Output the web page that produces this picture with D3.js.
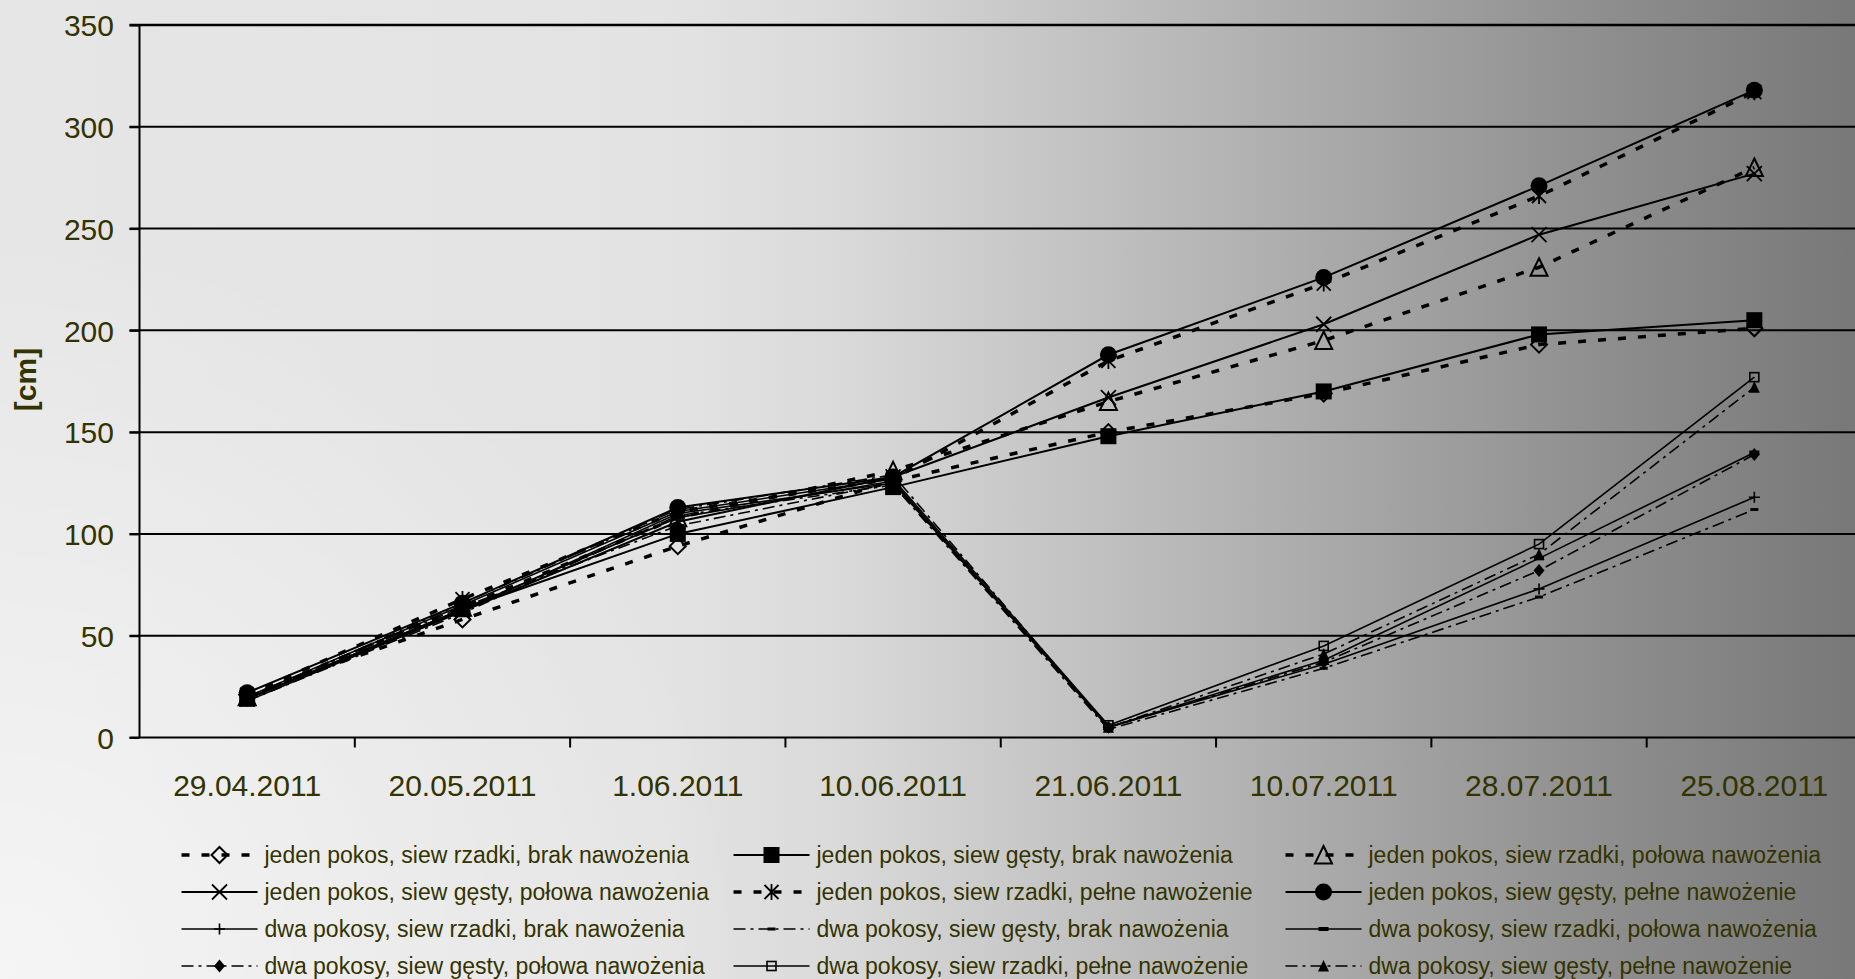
<!DOCTYPE html>
<html>
<head>
<meta charset="utf-8">
<script src="https://cdn.jsdelivr.net/npm/d3@7"></script>
<style>
  html, body { margin: 0; padding: 0; overflow: hidden; background: #e6e6e6; }
  svg { display: block; font-family: "Liberation Sans", Arial, sans-serif; }
</style>
</head>
<body>
<svg id="chart" width="1855" height="979"></svg>
<script>
// Measurement dates (x categories)
const dates = ["29.04.2011", "20.05.2011", "1.06.2011", "10.06.2011",
               "21.06.2011", "10.07.2011", "28.07.2011", "25.08.2011"];
const yTicks = [0, 50, 100, 150, 200, 250, 300, 350];

// Plant height [cm] per treatment
const jedenRzadkiBrak    = [21, 58, 94, 126, 150, 169, 193, 201];
const jedenGestyBrak     = [19, 63, 100, 123, 148, 170, 198, 205];
const jedenRzadkiPolowa  = [20, 64, 108, 131, 165, 195, 231, 280];
const jedenGestyPolowa   = [19, 62, 106, 128, 167, 203, 247, 277];
const jedenRzadkiPelne   = [21, 68, 111, 127, 185, 223, 266, 317];
const jedenGestyPelne    = [22, 66, 113, 128, 188, 226, 271, 318];
const dwaRzadkiBrak      = [18, 62, 110, 125, 5, 36, 73, 118];
const dwaGestyBrak       = [18, 61, 109, 124, 4, 34, 69, 112];
const dwaRzadkiPolowa    = [19, 63, 108, 126, 5, 38, 88, 140];
const dwaGestyPolowa     = [20, 64, 104, 125, 5, 37, 82, 139];
const dwaRzadkiPelne     = [20, 65, 111, 127, 6, 45, 95, 177];
const dwaGestyPelne      = [19, 66, 112, 129, 5, 41, 90, 172];

const seriesNames = [
  "jeden pokos, siew rzadki, brak nawożenia",
  "jeden pokos, siew gęsty, brak nawożenia",
  "jeden pokos, siew rzadki, połowa nawożenia",
  "jeden pokos, siew gęsty, połowa nawożenia",
  "jeden pokos, siew rzadki, pełne nawożenie",
  "jeden pokos, siew gęsty, pełne nawożenie",
  "dwa pokosy, siew rzadki, brak nawożenia",
  "dwa pokosy, siew gęsty, brak nawożenia",
  "dwa pokosy, siew rzadki, połowa nawożenia",
  "dwa pokosy, siew gęsty, połowa nawożenia",
  "dwa pokosy, siew rzadki, pełne nawożenie",
  "dwa pokosy, siew gęsty, pełne nawożenie"
];
const seriesValues = [
  jedenRzadkiBrak, jedenGestyBrak, jedenRzadkiPolowa, jedenGestyPolowa,
  jedenRzadkiPelne, jedenGestyPelne, dwaRzadkiBrak, dwaGestyBrak,
  dwaRzadkiPolowa, dwaGestyPolowa, dwaRzadkiPelne, dwaGestyPelne
];

// Line and marker styling per series
const DASH = "8,12", DASHDOT = "12,5,3,5";
const styles = [
  { w: 3.5, dash: DASH,    marker: "diamondOpen" },
  { w: 2,   dash: null,    marker: "squareFilled" },
  { w: 3.5, dash: DASH,    marker: "triangleOpen" },
  { w: 2,   dash: null,    marker: "cross" },
  { w: 3.5, dash: DASH,    marker: "asterisk" },
  { w: 2,   dash: null,    marker: "circleFilled" },
  { w: 1.6, dash: null,    marker: "plus" },
  { w: 1.6, dash: DASHDOT, marker: "dashSmall" },
  { w: 1.6, dash: null,    marker: "dashBig" },
  { w: 1.6, dash: DASHDOT, marker: "diamondSmall" },
  { w: 1.6, dash: null,    marker: "squareSmallOpen" },
  { w: 1.6, dash: DASHDOT, marker: "triangleSmall" }
];

const W = 1855, H = 979;
const plotLeft = 139.5, plotRight = 1862, plotTop = 25, plotBottom = 737.5;
const textColor = "#333300";

const svg = d3.select("#chart");
const defs = svg.append("defs");

// Background: light grey on the left darkening towards the right edge
const bg = defs.append("linearGradient").attr("id", "bgGrad")
  .attr("x1", "0").attr("y1", "0").attr("x2", "1").attr("y2", "0");
[[0, "#e6e6e6"], [0.36, "#e3e3e3"], [0.45, "#dadada"], [0.54, "#cacaca"],
 [0.86, "#8f8f8f"], [1, "#787878"]]
  .forEach(([o, c]) => bg.append("stop").attr("offset", o).attr("stop-color", c));
const glow = defs.append("radialGradient").attr("id", "glow")
  .attr("gradientUnits", "userSpaceOnUse")
  .attr("cx", 0).attr("cy", H).attr("r", 750);
glow.append("stop").attr("offset", 0).attr("stop-color", "#fff").attr("stop-opacity", 0.6);
glow.append("stop").attr("offset", 1).attr("stop-color", "#fff").attr("stop-opacity", 0);

svg.append("rect").attr("width", W).attr("height", H).attr("fill", "url(#bgGrad)");
svg.append("rect").attr("width", W).attr("height", H).attr("fill", "url(#glow)");

// Scales
const x = d3.scaleBand().domain(dates).range([plotLeft, plotRight]).padding(0);
const cx = d => x(d) + x.bandwidth() / 2;
const y = d3.scaleLinear().domain([0, 350]).range([plotBottom, plotTop]);

// Horizontal gridlines
svg.append("g").selectAll("line").data(yTicks).join("line")
  .attr("x1", plotLeft - 10).attr("x2", W)
  .attr("y1", d => y(d)).attr("y2", d => y(d))
  .attr("stroke", "#000").attr("stroke-width", d => d === 350 ? 2.5 : 2);

// Y axis
const yAxis = svg.append("g").attr("transform", `translate(${plotLeft},0)`)
  .call(d3.axisLeft(y).tickValues(yTicks).tickSize(10).tickSizeOuter(0).tickPadding(15.5));
yAxis.select(".domain").attr("stroke", "#000").attr("stroke-width", 2)
  .attr("d", `M0,${plotTop}V${plotBottom}`);
yAxis.selectAll(".tick line").attr("stroke", "#000").attr("stroke-width", 2);
yAxis.selectAll(".tick text").attr("fill", textColor)
  .style("font-size", "30px").style("font-family", "Liberation Sans, Arial, sans-serif")
  .attr("dy", "0.355em");

// X axis: ticks at category boundaries, labels centred in categories
const bounds = dates.map(d => x(d)).concat([plotRight]);
svg.append("g").selectAll("line").data(bounds.slice(1)).join("line")
  .attr("x1", d => d).attr("x2", d => d)
  .attr("y1", plotBottom).attr("y2", plotBottom + 10)
  .attr("stroke", "#000").attr("stroke-width", 2);
svg.append("g").selectAll("text").data(dates).join("text")
  .attr("x", d => cx(d)).attr("y", 795.5)
  .attr("text-anchor", "middle").attr("fill", textColor)
  .style("font-size", "30px").text(d => d);

// Y title
svg.append("text")
  .attr("transform", "translate(28,379.5) rotate(-90)")
  .attr("text-anchor", "middle").attr("dy", "0.26em")
  .attr("fill", textColor).style("font-size", "30px").style("font-weight", "bold")
  .text("[cm]");

// Marker drawing
function drawMarker(g, type) {
  const k = "#000";
  switch (type) {
    case "diamondOpen":
      g.append("path").attr("d", "M0,-8L8,0L0,8L-8,0Z")
        .attr("fill", "none").attr("stroke", k).attr("stroke-width", 2); break;
    case "squareFilled":
      g.append("rect").attr("x", -8).attr("y", -8).attr("width", 16).attr("height", 16).attr("fill", k); break;
    case "triangleOpen":
      g.append("path").attr("d", "M0,-9L8.5,8.5L-8.5,8.5Z")
        .attr("fill", "none").attr("stroke", k).attr("stroke-width", 2); break;
    case "cross":
      g.append("path").attr("d", "M-7.5,-7.5L7.5,7.5M-7.5,7.5L7.5,-7.5")
        .attr("stroke", k).attr("stroke-width", 1.8); break;
    case "asterisk":
      g.append("path").attr("d", "M-7,-7L7,7M-7,7L7,-7M0,-8V8")
        .attr("stroke", k).attr("stroke-width", 1.8); break;
    case "circleFilled":
      g.append("circle").attr("r", 8.5).attr("fill", k); break;
    case "plus":
      g.append("path").attr("d", "M-5.5,0H5.5M0,-5.5V5.5")
        .attr("stroke", k).attr("stroke-width", 1.6); break;
    case "dashSmall":
      g.append("rect").attr("x", -4).attr("y", -1.5).attr("width", 8).attr("height", 3).attr("fill", k); break;
    case "dashBig":
      g.append("rect").attr("x", -5).attr("y", -2).attr("width", 10).attr("height", 4).attr("fill", k); break;
    case "diamondSmall":
      g.append("path").attr("d", "M0,-6.5L5.5,0L0,6.5L-5.5,0Z").attr("fill", k); break;
    case "squareSmallOpen":
      g.append("rect").attr("x", -4.5).attr("y", -4.5).attr("width", 9).attr("height", 9)
        .attr("fill", "none").attr("stroke", k).attr("stroke-width", 1.6); break;
    case "triangleSmall":
      g.append("path").attr("d", "M0,-6L5.5,5.5L-5.5,5.5Z").attr("fill", k); break;
  }
}

// Series lines and markers
const line = d3.line().x((v, i) => cx(dates[i])).y(v => y(v));
const plot = svg.append("g");
seriesValues.forEach((vals, si) => {
  const st = styles[si];
  const g = plot.append("g");
  g.append("path").datum(vals).attr("d", line)
    .attr("fill", "none").attr("stroke", "#000")
    .attr("stroke-width", st.w).attr("stroke-dasharray", st.dash);
  g.selectAll("g.m").data(vals).join("g").attr("class", "m")
    .attr("transform", (v, i) => `translate(${cx(dates[i])},${y(v)})`)
    .each(function () { drawMarker(d3.select(this), st.marker); });
});

// Legend: 3 columns x 4 rows
const legCols = [181.5, 733.5, 1285.5];
const legY0 = 855, legDy = 37, legLen = 76;
const legend = svg.append("g");
seriesNames.forEach((name, i) => {
  const st = styles[i];
  const lx = legCols[i % 3], ly = legY0 + Math.floor(i / 3) * legDy;
  const g = legend.append("g").attr("transform", `translate(${lx},${ly})`);
  g.append("line").attr("x1", 0).attr("x2", legLen).attr("y1", 0).attr("y2", 0)
    .attr("stroke", "#000").attr("stroke-width", st.w).attr("stroke-dasharray", st.dash);
  drawMarker(g.append("g").attr("transform", `translate(${legLen / 2},0)`), st.marker);
  g.append("text").attr("x", legLen + 7).attr("y", 0).attr("dy", "0.36em")
    .attr("fill", textColor).style("font-size", "23px").text(name);
});
</script>
</body>
</html>
